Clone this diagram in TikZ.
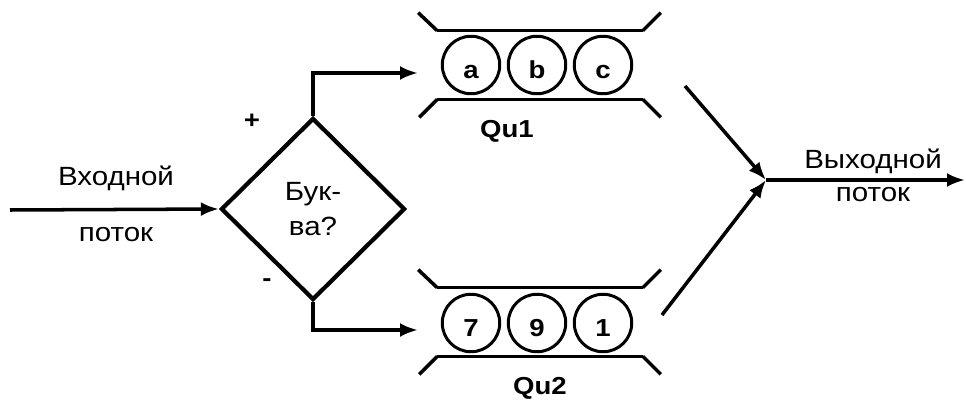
\documentclass[tikz,border=0pt]{standalone}
\usepackage{fontspec}
\setmainfont[FakeStretch=1.12]{Liberation Sans}
\usetikzlibrary{shapes.geometric,arrows.meta,positioning}

\begin{document}
\begin{tikzpicture}[
        x=0.02cm, y=-0.02cm,
        >={Latex[length=3.6mm,width=2.8mm]},
        font=\fontsize{15}{17}\selectfont,
        flow/.style={
            draw,
            ->,
            line width=2pt
        },
        test/.style={
            diamond,
            draw,
            line width=2.4pt,
            minimum width=3.68cm,
            minimum height=3.64cm,
            inner sep=0pt,
            align=center,
            font=\fontsize{15}{20}\selectfont
        },
        queue/.style={
            rectangle,
            minimum width=4.1cm,
            minimum height=1.36cm,
            inner sep=0pt
        },
        ball/.style={
            circle,
            draw,
            line width=1.7pt,
            minimum size=1.15cm,
            inner sep=0pt,
            text height=15pt,
            text depth=0pt,
            font=\fontsize{14}{16}\selectfont\bfseries
        },
        wall/.style={
            line width=2pt
        },
        tag/.style={
            font=\fontsize{14}{16}\selectfont\bfseries
        }
    ]
    \useasboundingbox (0,0) rectangle (966,399);

    % Decision
    \node [test] (test) at (313,209) {Бук-\\ва?};
    \node [tag] (plus) at (252,121) {+};
    \node [tag] (minus) at (267,283) {-};

    % Queues
    \node [queue] (qu1) at (540,65) {};
    \node [queue] (qu2) at (540,322) {};
    \node [tag, below=0.3cm of qu1, xshift=-0.66cm] (qu1tag) {Qu1};
    \node [tag, below=0.3cm of qu2] (qu2tag) {Qu2};

    \foreach \q in {qu1,qu2} {
        \draw [wall] (\q.north west) -- (\q.north east);
        \draw [wall] (\q.south west) -- (\q.south east);
        \draw [wall] (\q.north west) -- ++(-19,-18);
        \draw [wall] (\q.north east) -- ++(18,-18);
        \draw [wall] (\q.south west) -- ++(-18,18);
        \draw [wall] (\q.south east) -- ++(18,18);
    }

    \node [ball] (a) at (471,65) {a};
    \node [ball] (b) at (537,65) {b};
    \node [ball] (c) at (603,65) {c};
    \node [ball] (n7) at (471,323) {7};
    \node [ball] (n9) at (537,323) {9};
    \node [ball] (n1) at (603,323) {1};

    % Ends of the connectors
    \coordinate (in) at (10,210);
    \coordinate (q1in) at (418,73);
    \coordinate (q2in) at (418,330);
    \coordinate (q1out) at (685,86);
    \coordinate (q2out) at (662,315);
    \coordinate (join) at (766,180);
    \coordinate (out) at (965,180);

    % Connections
    \path [flow] (in) -- (test.west);
    \path [flow] (test.north) |- (q1in);
    \path [flow] (test.south) |- (q2in);
    \path [flow] (q1out) -- (join);
    \path [flow] (q2out) -- (join);
    \path [flow] (join) -- (out);

    % Stream labels
    \node (inname) at (116,178) {Входной};
    \node (inword) at (116,235) {поток};
    \node (outname) at (873,161) {Выходной};
    \node (outword) at (873,195) {поток};

\end{tikzpicture}
\end{document}
